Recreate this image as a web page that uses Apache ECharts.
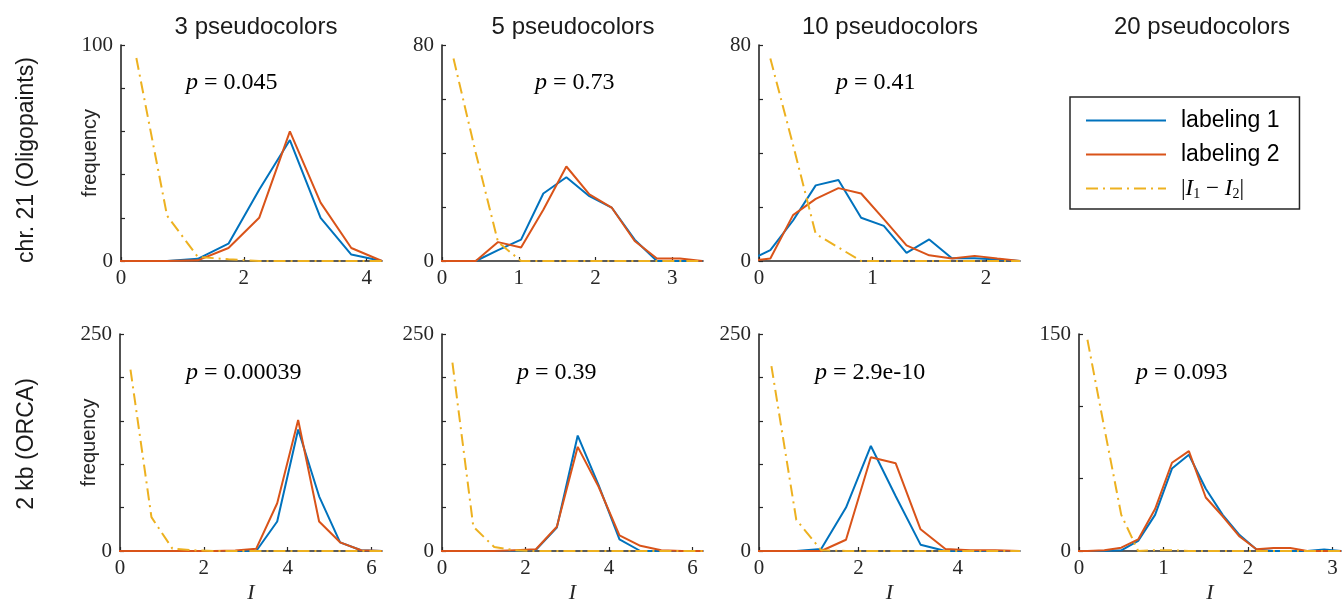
<!DOCTYPE html>
<html>
<head>
<meta charset="utf-8">
<script src="https://cdn.jsdelivr.net/npm/echarts@6/dist/echarts.min.js"></script>
<style>
  html, body { margin: 0; padding: 0; background: #ffffff; }
  #chart { width: 1342px; height: 602px; }
</style>
</head>
<body>
<div id="chart"></div>
<script>
// ---------- data: histogram bin centres and frequencies ----------
// chr. 21 (Oligopaints), 3 pseudocolors
const a3Bins      = [-0.25, 0.25, 0.75, 1.25, 1.75, 2.25, 2.75, 3.25, 3.75, 4.25];
const a3Label1    = [0, 0, 0, 1, 8, 33, 56, 20, 3, 0];
const a3Label2    = [0, 0, 0, 0.3, 6, 20, 60, 27, 6, 0];
const a3DiffBins  = [0.25, 0.75, 1.25, 1.75, 2.25, 2.75, 3.25, 3.75, 4.25];
const a3Diff      = [94, 21, 1.9, 0.8, 0, 0, 0, 0, 0];

// chr. 21 (Oligopaints), 5 pseudocolors
const a5Bins      = [-0.14, 0.15, 0.44, 0.73, 1.03, 1.32, 1.62, 1.92, 2.21, 2.51, 2.80, 3.10, 3.39];
const a5Label1    = [0, 0, 0, 4, 7.9, 25, 31, 24, 19.8, 7.9, 0, 0, 0];
const a5Label2    = [0, 0, 0, 7, 5, 19, 35, 24.7, 19.8, 7.4, 0.9, 0.9, 0];
const a5DiffBins  = [0.15, 0.44, 0.73, 1.03, 1.32, 1.62, 1.92, 2.21, 2.51, 2.80, 3.10, 3.39];
const a5Diff      = [75, 40, 7, 0, 0, 0, 0, 0, 0, 0, 0, 0];

// chr. 21 (Oligopaints), 10 pseudocolors
const a10Bins     = [-0.1, 0.1, 0.3, 0.5, 0.7, 0.9, 1.1, 1.3, 1.5, 1.7, 1.9, 2.1, 2.3];
const a10Label1   = [0, 4, 15, 28, 30, 16, 13, 3, 8, 1, 1, 0.6, 0];
const a10Label2   = [0, 0.9, 17, 23, 27, 25, 15.5, 5.8, 2.1, 0.9, 1.9, 0.9, 0];
const a10DiffBins = [0.1, 0.3, 0.5, 0.7, 0.9, 1.1, 1.3, 1.5, 1.7, 1.9, 2.1, 2.3];
const a10Diff     = [75, 43, 10, 5, 0, 0, 0, 0, 0, 0, 0, 0];

// 2 kb (ORCA), 3 pseudocolors
const b3Bins      = [-0.25, 0.25, 0.75, 1.25, 1.75, 2.25, 2.75, 3.25, 3.75, 4.25, 4.75, 5.25, 5.75, 6.25];
const b3Label1    = [0, 0, 0, 0, 0, 0, 0, 0, 34, 140, 63, 10, 0.8, 0];
const b3Label2    = [0, 0, 0, 0, 0, 0, 0.5, 2.7, 55, 151, 34, 10, 0.8, 0];
const b3DiffBins  = [0.25, 0.75, 1.25, 1.75, 2.25, 2.75, 3.25, 3.75, 4.25, 4.75, 5.25, 5.75, 6.25];
const b3Diff      = [209, 39, 2.7, 0.8, 0, 0, 0, 0, 0, 0, 0, 0, 0];

// 2 kb (ORCA), 5 pseudocolors
const b5Bins      = [-0.25, 0.25, 0.75, 1.25, 1.75, 2.25, 2.75, 3.25, 3.75, 4.25, 4.75, 5.25, 5.75, 6.25];
const b5Label1    = [0, 0, 0, 0, 0, 1.5, 27, 133, 76, 13.5, 0, 0, 0, 0];
const b5Label2    = [0, 0, 0, 0, 1, 2, 28, 120, 74, 18, 6, 0.8, 0, 0];
const b5DiffBins  = [0.25, 0.75, 1.25, 1.75, 2.25, 2.75, 3.25, 3.75, 4.25, 4.75, 5.25, 5.75, 6.25];
const b5Diff      = [217, 28, 4.6, 0.8, 0, 0, 0, 0, 0, 0, 0, 0, 0];

// 2 kb (ORCA), 10 pseudocolors
const b10Bins     = [-0.25, 0.25, 0.75, 1.25, 1.75, 2.25, 2.75, 3.25, 3.75, 4.25, 4.75, 5.25];
const b10Label1   = [0, 0, 0, 2.3, 50, 121, 63, 7.3, 0, 0, 0, 0];
const b10Label2   = [0, 0, 0, 0, 13, 108, 101, 25, 2.3, 1, 1, 0];
const b10DiffBins = [0.25, 0.75, 1.25, 1.75, 2.25, 2.75, 3.25, 3.75, 4.25, 4.75, 5.25];
const b10Diff     = [213, 36, 1, 0, 0, 0, 0, 0, 0, 0, 0];

// 2 kb (ORCA), 20 pseudocolors
const b20Bins     = [-0.1, 0.1, 0.3, 0.5, 0.7, 0.9, 1.1, 1.3, 1.5, 1.7, 1.9, 2.1, 2.3, 2.5, 2.7, 2.9, 3.1];
const b20Label1   = [0, 0, 0, 0.5, 7, 25, 57, 66.5, 43, 25, 11, 1, 0, 0, 0, 1, 0];
const b20Label2   = [0, 0, 0.5, 2.3, 8, 29, 61, 69, 37, 24, 10, 1.2, 2, 2, 0, 0, 0];
const b20DiffBins = [0.1, 0.3, 0.5, 0.7, 0.9, 1.1, 1.3, 1.5, 1.7, 1.9, 2.1, 2.3, 2.5, 2.7, 2.9, 3.1];
const b20Diff     = [146, 85, 25, 0, 0.5, 0.5, 0, 0, 0, 0, 0, 0, 0, 0, 0, 0];

// p-values of the two labelings
const pValues = ['0.045', '0.73', '0.41', '0.00039', '0.39', '2.9e-10', '0.093'];

// axis ranges and tick labels
const xMaxes   = [4.25, 3.4, 2.3, 6.25, 6.25, 5.25, 3.1];
const xTicks   = [[0, 2, 4], [0, 1, 2, 3], [0, 1, 2], [0, 2, 4, 6], [0, 2, 4, 6], [0, 2, 4], [0, 1, 2, 3]];
const yMaxes   = [100, 80, 80, 250, 250, 250, 150];
const yTicks   = [[0, 20, 40, 60, 80, 100], [0, 20, 40, 60, 80], [0, 20, 40, 60, 80],
                  [0, 50, 100, 150, 200, 250], [0, 50, 100, 150, 200, 250], [0, 50, 100, 150, 200, 250],
                  [0, 50, 100, 150]];

const columnTitles = ['3 pseudocolors', '5 pseudocolors', '10 pseudocolors', '20 pseudocolors'];
const rowTitles    = ['chr. 21 (Oligopaints)', '2 kb (ORCA)'];
const seriesNames  = ['labeling 1', 'labeling 2', '|I1 − I2|'];

// ---------- layout ----------
const panels = [
  { left: 121, top: 45,  width: 261, height: 216, bins: a3Bins,  l1: a3Label1,  l2: a3Label2,  dBins: a3DiffBins,  d: a3Diff,  yName: true,  xName: false, pX: 186,  pY: 83 },
  { left: 442, top: 45,  width: 261, height: 216, bins: a5Bins,  l1: a5Label1,  l2: a5Label2,  dBins: a5DiffBins,  d: a5Diff,  yName: false, xName: false, pX: 535,  pY: 83 },
  { left: 759, top: 45,  width: 261, height: 216, bins: a10Bins, l1: a10Label1, l2: a10Label2, dBins: a10DiffBins, d: a10Diff, yName: false, xName: false, pX: 836,  pY: 83 },
  { left: 120, top: 334, width: 262, height: 217, bins: b3Bins,  l1: b3Label1,  l2: b3Label2,  dBins: b3DiffBins,  d: b3Diff,  yName: true,  xName: true,  pX: 186,  pY: 373 },
  { left: 442, top: 334, width: 261, height: 217, bins: b5Bins,  l1: b5Label1,  l2: b5Label2,  dBins: b5DiffBins,  d: b5Diff,  yName: false, xName: true,  pX: 517,  pY: 373 },
  { left: 759, top: 334, width: 261, height: 217, bins: b10Bins, l1: b10Label1, l2: b10Label2, dBins: b10DiffBins, d: b10Diff, yName: false, xName: true,  pX: 815,  pY: 373 },
  { left: 1079, top: 334, width: 262, height: 217, bins: b20Bins, l1: b20Label1, l2: b20Label2, dBins: b20DiffBins, d: b20Diff, yName: false, xName: true,  pX: 1136, pY: 373 }
];

const BLUE = '#0072BD', RED = '#D95319', YELLOW = '#EDB120', AXIS = '#262626';
const SERIF = '"Liberation Serif", "Times New Roman", serif';
const SANS  = '"Liberation Sans", Arial, Helvetica, sans-serif';

const zip = (xs, ys) => xs.map((x, i) => [x, ys[i]]);

const grid = [], xAxis = [], yAxis = [], series = [];

panels.forEach((p, i) => {
  grid.push({ left: p.left, top: p.top, width: p.width, height: p.height, containLabel: false, outerBoundsMode: 'none' });
  xAxis.push({
    type: 'value', gridIndex: i, min: 0, max: xMaxes[i],
    splitLine: { show: false },
    axisLine: { show: true, onZero: false, lineStyle: { color: AXIS, width: 1.6 } },
    axisTick: { show: true, inside: true, length: 4, customValues: xTicks[i], lineStyle: { color: AXIS, width: 1.2 } },
    axisLabel: { show: true, customValues: xTicks[i], margin: 7, color: AXIS, fontFamily: SERIF, fontSize: 21 },
    name: p.xName ? 'I' : '',
    nameLocation: 'middle', nameGap: 31, nameMoveOverlap: false,
    nameTextStyle: { fontFamily: SERIF, fontStyle: 'italic', fontSize: 22, color: AXIS }
  });
  yAxis.push({
    type: 'value', gridIndex: i, min: 0, max: yMaxes[i],
    splitLine: { show: false },
    axisLine: { show: true, onZero: false, lineStyle: { color: AXIS, width: 1.6 } },
    axisTick: { show: true, inside: true, length: 4, customValues: yTicks[i], lineStyle: { color: AXIS, width: 1.2 } },
    axisLabel: { show: true, customValues: [0, yMaxes[i]], margin: 8, color: AXIS, fontFamily: SERIF, fontSize: 21 },
    name: p.yName ? 'frequency' : '',
    nameLocation: 'middle', nameGap: 21, nameRotate: 90, nameMoveOverlap: false,
    nameTextStyle: { fontFamily: SANS, fontSize: 20, color: AXIS }
  });
  const common = { type: 'line', xAxisIndex: i, yAxisIndex: i, symbol: 'none', showSymbol: false, clip: true, animation: false, silent: true };
  series.push(Object.assign({}, common, { name: seriesNames[0], data: zip(p.bins, p.l1), lineStyle: { color: BLUE, width: 2 }, itemStyle: { color: BLUE }, z: 3 }));
  series.push(Object.assign({}, common, { name: seriesNames[1], data: zip(p.bins, p.l2), lineStyle: { color: RED, width: 2 }, itemStyle: { color: RED }, z: 4 }));
  series.push(Object.assign({}, common, { name: seriesNames[2], data: zip(p.dBins, p.d), lineStyle: { color: YELLOW, width: 2, type: [12, 5, 2, 5] }, itemStyle: { color: YELLOW }, z: 5 }));
});

// column titles, row titles and p-value annotations
const graphic = [];
const titleCenters = [256, 573, 890, 1202];
columnTitles.forEach((t, i) => {
  graphic.push({ type: 'text', x: titleCenters[i], y: 27, silent: true,
    style: { text: t, fill: '#1a1a1a', font: '24px ' + SANS, align: 'center', verticalAlign: 'middle' } });
});
const rowCenters = [160, 444];
rowTitles.forEach((t, i) => {
  graphic.push({ type: 'text', x: 27, y: rowCenters[i], rotation: Math.PI / 2, silent: true,
    style: { text: t, fill: '#1a1a1a', font: '23px ' + SANS, align: 'center', verticalAlign: 'middle' } });
});
panels.forEach((p, i) => {
  graphic.push({ type: 'text', x: p.pX, y: p.pY, silent: true,
    style: {
      text: '{i|p}{n| = ' + pValues[i] + '}',
      align: 'left', verticalAlign: 'middle',
      rich: {
        i: { font: 'italic 24px ' + SERIF, fill: '#000' },
        n: { font: '24px ' + SERIF, fill: '#000' }
      }
    } });
});

const chart = echarts.init(document.getElementById('chart'), null, { renderer: 'canvas' });
chart.setOption({
  backgroundColor: '#ffffff',
  animation: false,
  grid, xAxis, yAxis, series, graphic,
  legend: {
    show: true,
    data: seriesNames,
    orient: 'vertical',
    left: 1070, top: 97,
    itemWidth: 80, itemHeight: 14, itemGap: 11,
    padding: [12, 20, 8, 15],
    borderColor: AXIS, borderWidth: 1.5,
    backgroundColor: '#ffffff',
    selectedMode: false,
    itemStyle: { opacity: 0 },
    lineStyle: { width: 2 },
    formatter: function (name) {
      if (name === seriesNames[2]) {
        return '{b||}{i|I}{s|1}{b| − }{i|I}{s|2}{b||}';
      }
      return name;
    },
    textStyle: {
      fontFamily: SANS, fontSize: 23, color: '#000', padding: [0, 0, 0, 10],
      rich: {
        b: { fontFamily: SERIF, fontSize: 23, color: '#000' },
        i: { fontFamily: SERIF, fontStyle: 'italic', fontSize: 23, color: '#000' },
        s: { fontFamily: SERIF, fontSize: 14, color: '#000', padding: [11, 0, 0, 0] }
      }
    }
  }
});
</script>
</body>
</html>
